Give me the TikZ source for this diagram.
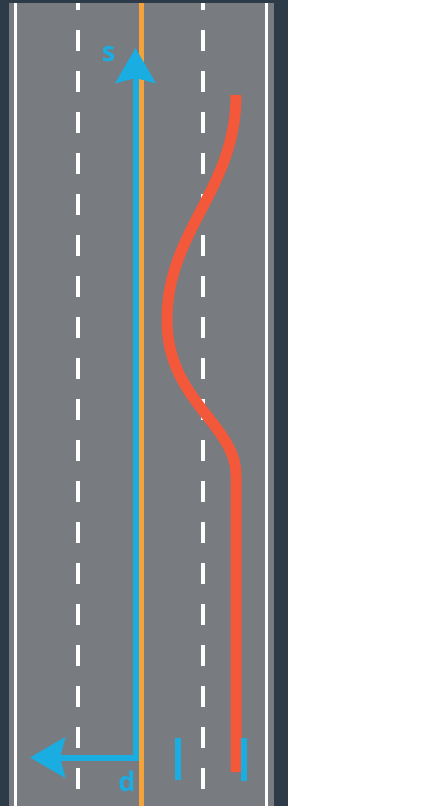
\documentclass[tikz,border=0pt]{standalone}
\usepackage{fontspec}
\setsansfont{Open Sans}
\usetikzlibrary{arrows.meta}
\definecolor{roaddark}{HTML}{2D3A48}
\definecolor{roadgrey}{HTML}{787B80}
\definecolor{frenetblue}{HTML}{1AADE2}
\definecolor{centerorange}{HTML}{F4A23A}
\definecolor{pathred}{HTML}{F4583A}
\begin{document}
\begin{tikzpicture}[x=1pt,y=-1pt]
% road in the frenet frame
\tikzstyle{edgeline} = [draw=white, line width=3pt]
\tikzstyle{lanemark} = [draw=white, line width=3.5pt, dash pattern=on 21pt off 20pt, dash phase=14pt]
\tikzstyle{axisline} = [draw=frenetblue, line width=6pt, line join=miter, {Stealth[length=35pt,width=40pt,inset=5pt]}-{Stealth[length=35pt,width=40pt,inset=5pt]}]
\tikzstyle{axislabel} = [text=frenetblue, font=\sffamily\bfseries\fontsize{27}{27}\selectfont, inner sep=0pt]
\tikzstyle{marker} = [draw=frenetblue, line width=6pt]
\tikzstyle{trajectory} = [draw=pathred, line width=11pt]
\useasboundingbox (0,0) rectangle (424,806);
\fill[roaddark] (0,0) rectangle (288,806);
\fill[roadgrey] (9,3) rectangle (274,806);
\draw[edgeline] (15.5,3) -- (15.5,806);
\draw[edgeline] (266.5,3) -- (266.5,806);
\draw[lanemark] (78,3) -- (78,806);
\draw[lanemark] (203,3) -- (203,806);
\draw[centerorange, line width=5pt] (141,3) -- (141,806);
\coordinate (o) at (135.5,757.5);
\coordinate (send) at (135.5,48);
\coordinate (dend) at (30,757.5);
\draw[axisline] (dend) -- (o) -- (send);
\node[axislabel] (s) at (108.5,54) {s};
\node[axislabel] (d) at (127,781) {d};
\coordinate (start) at (236,95);
\coordinate (left) at (167,320);
\coordinate (back) at (236,475);
\coordinate (stop) at (236,772);
\draw[trajectory] (start) .. controls (236,190) and (167,230) .. (left)
  .. controls (167,400) and (236,425) .. (back) -- (stop);
\draw[marker] (178,738) -- (178,780);
\draw[marker] (243.5,738) -- (243.5,781);
\end{tikzpicture}
\end{document}
